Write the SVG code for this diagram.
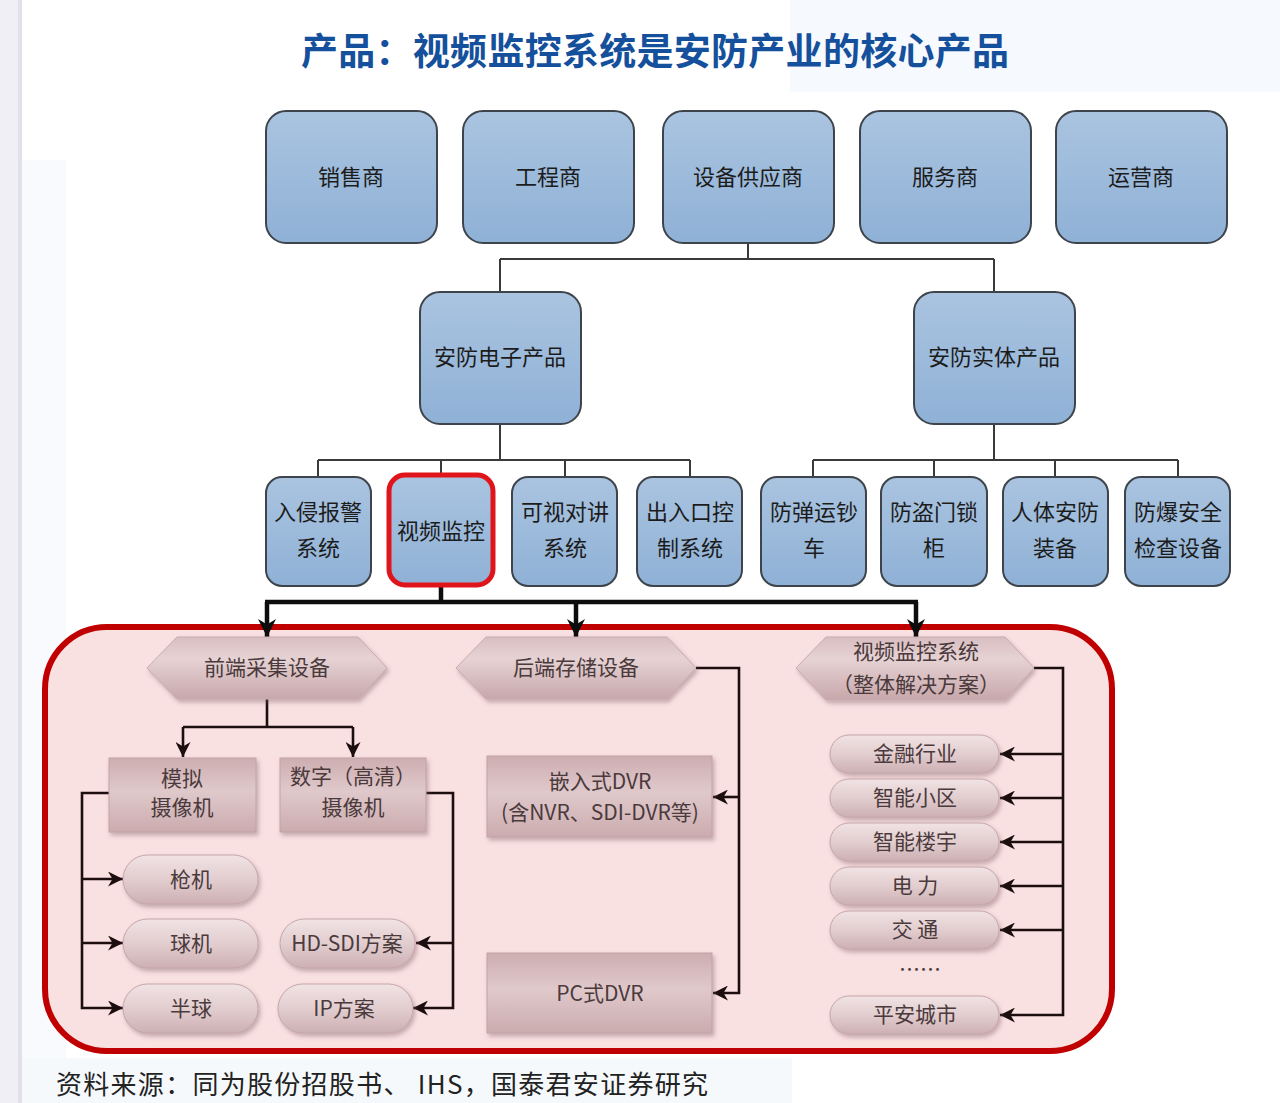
<svg xmlns="http://www.w3.org/2000/svg" width="1280" height="1103" viewBox="0 0 1280 1103">
<defs>
<linearGradient id="blueG" x1="0" y1="0" x2="0" y2="1"><stop offset="0" stop-color="#aac4e0"/><stop offset="1" stop-color="#8fb1d6"/></linearGradient>
<linearGradient id="hexG" x1="0" y1="0" x2="0" y2="1"><stop offset="0" stop-color="#d9bec1"/><stop offset="0.35" stop-color="#e6d2d4"/><stop offset="1" stop-color="#c7a7aa"/></linearGradient>
<linearGradient id="boxG" x1="0" y1="0" x2="0" y2="1"><stop offset="0" stop-color="#cdadb0"/><stop offset="0.45" stop-color="#e0c9cb"/><stop offset="1" stop-color="#cbabae"/></linearGradient>
<linearGradient id="pillG" x1="0" y1="0" x2="0" y2="1"><stop offset="0" stop-color="#f1e3e4"/><stop offset="0.5" stop-color="#e2cdcf"/><stop offset="1" stop-color="#cdb0b3"/></linearGradient>
<filter id="sh" x="-10%" y="-15%" width="125%" height="145%"><feDropShadow dx="2" dy="3" stdDeviation="2" flood-color="#7a5a5e" flood-opacity="0.4"/></filter>
<marker id="ah" viewBox="0 0 10 10" refX="10" refY="5" markerWidth="15" markerHeight="15" markerUnits="userSpaceOnUse" orient="auto"><path d="M0,0 L10,5 L0,10 L3,5 z" fill="#1c0e0f"/></marker>
<marker id="ahb" viewBox="0 0 10 10" refX="10" refY="5" markerWidth="18" markerHeight="18" markerUnits="userSpaceOnUse" orient="auto"><path d="M0,0 L10,5 L0,10 L3,5 z" fill="#0d0d0d"/></marker>
<style>
.bl{fill:url(#blueG);stroke:#3e444c;stroke-width:2}
.bt{font-family:"Noto Sans CJK SC","Noto Sans",sans-serif;font-size:22px;fill:#1c1c1c;text-anchor:middle;dominant-baseline:central;transform:translateY(-2px)}
.pt{font-family:"Noto Sans CJK SC","Noto Sans",sans-serif;font-size:21px;fill:#4a3a3c;text-anchor:middle;dominant-baseline:central;transform:translateY(-2px)}
.hex{fill:url(#hexG);stroke:#c9adb0;stroke-width:1;filter:url(#sh)}
.box{fill:url(#boxG);stroke:#c2a3a6;stroke-width:1;filter:url(#sh)}
.pill{fill:url(#pillG);stroke:#c4a6a9;stroke-width:1;filter:url(#sh)}
.gl{fill:none;stroke:#3a3a3a;stroke-width:2}
.tk{fill:none;stroke:#0d0d0d;stroke-width:4.5}
.tn{fill:none;stroke:#1c0e0f;stroke-width:2.6}
</style>
</defs>
<rect x="0" y="0" width="1280" height="1103" fill="#ffffff"/>
<rect x="790" y="0" width="490" height="92" fill="#f6f9fd"/>
<rect x="22" y="160" width="44" height="900" fill="#f8fafd"/>
<rect x="22" y="1058" width="770" height="45" fill="#f6f9fc"/>
<rect x="0" y="0" width="22" height="1103" fill="#f0eff5"/>
<rect x="18" y="0" width="4" height="1103" fill="#e2e1ea"/>

<text x="655" y="65" font-family="Noto Sans CJK SC,Noto Sans,sans-serif" font-size="37" font-weight="700" fill="#15509c" text-anchor="middle" textLength="708">产品：视频监控系统是安防产业的核心产品</text>

<g id="frame"><rect x="45" y="627" width="1067" height="424" rx="62" fill="#f9e0e1" stroke="#c00000" stroke-width="6"/></g>

<g id="connectors">
<path class="gl" d="M748,243 V259 M500,259 H994 M500,259 V292 M994,259 V292"/>
<path class="gl" d="M500,424 V460 M318,460 H690 M318,460 V477 M441,460 V473 M565,460 V477 M690,460 V477"/>
<path class="gl" d="M994,424 V460 M813,460 H1178 M813,460 V477 M934,460 V477 M1055,460 V477 M1178,460 V477"/>
<path class="tk" d="M441,586 V602 M265,602 H918"/>
<path class="tk" marker-end="url(#ahb)" d="M267,602 V637"/>
<path class="tk" marker-end="url(#ahb)" d="M576,602 V637"/>
<path class="tk" marker-end="url(#ahb)" d="M916,602 V637"/>
<path class="tn" d="M267,699 V727 M183,727 H353"/>
<path class="tn" marker-end="url(#ah)" d="M183,727 V757"/>
<path class="tn" marker-end="url(#ah)" d="M353,727 V757"/>
<path class="tn" marker-end="url(#ah)" d="M109,793 H82 V1008 H123"/>
<path class="tn" marker-end="url(#ah)" d="M82,879 H123"/>
<path class="tn" marker-end="url(#ah)" d="M82,943 H123"/>
<path class="tn" marker-end="url(#ah)" d="M426,793 H453 V1008 H413"/>
<path class="tn" marker-end="url(#ah)" d="M453,943 H416"/>
<path class="tn" marker-end="url(#ah)" d="M696,668 H739 V993 H713"/>
<path class="tn" marker-end="url(#ah)" d="M739,797 H713"/>
<path class="tn" marker-end="url(#ah)" d="M1034,668 H1063 V1015 H1000"/>
<path class="tn" marker-end="url(#ah)" d="M1063,754 H1000"/>
<path class="tn" marker-end="url(#ah)" d="M1063,798 H1000"/>
<path class="tn" marker-end="url(#ah)" d="M1063,842 H1000"/>
<path class="tn" marker-end="url(#ah)" d="M1063,886 H1000"/>
<path class="tn" marker-end="url(#ah)" d="M1063,930 H1000"/>
</g>

<g id="n-xiaoshou"><rect class="bl" x="266" y="111" width="171" height="132" rx="20"/><text class="bt" x="351" y="177">销售商</text></g>
<g id="n-gongcheng"><rect class="bl" x="463" y="111" width="171" height="132" rx="20"/><text class="bt" x="548" y="177">工程商</text></g>
<g id="n-shebei"><rect class="bl" x="663" y="111" width="171" height="132" rx="20"/><text class="bt" x="748" y="177">设备供应商</text></g>
<g id="n-fuwu"><rect class="bl" x="860" y="111" width="171" height="132" rx="20"/><text class="bt" x="945" y="177">服务商</text></g>
<g id="n-yunying"><rect class="bl" x="1056" y="111" width="171" height="132" rx="20"/><text class="bt" x="1141" y="177">运营商</text></g>

<g id="n-dianzi"><rect class="bl" x="420" y="292" width="161" height="132" rx="20"/><text class="bt" x="500" y="357">安防电子产品</text></g>
<g id="n-shiti"><rect class="bl" x="914" y="292" width="161" height="132" rx="20"/><text class="bt" x="994" y="357">安防实体产品</text></g>

<g id="n-ruqin"><rect class="bl" x="266" y="477" width="105" height="109" rx="16"/><text class="bt" x="318" y="512">入侵报警</text><text class="bt" x="318" y="548">系统</text></g>
<g id="n-shipin"><rect x="389" y="475" width="104" height="110" rx="16" fill="url(#blueG)" stroke="#e0141b" stroke-width="5"/><text class="bt" x="441" y="531">视频监控</text></g>
<g id="n-keshi"><rect class="bl" x="512" y="477" width="105" height="109" rx="16"/><text class="bt" x="565" y="512">可视对讲</text><text class="bt" x="565" y="548">系统</text></g>
<g id="n-churu"><rect class="bl" x="637" y="477" width="105" height="109" rx="16"/><text class="bt" x="690" y="512">出入口控</text><text class="bt" x="690" y="548">制系统</text></g>
<g id="n-fangdan"><rect class="bl" x="761" y="477" width="105" height="109" rx="16"/><text class="bt" x="814" y="512">防弹运钞</text><text class="bt" x="814" y="548">车</text></g>
<g id="n-fangdao"><rect class="bl" x="881" y="477" width="106" height="109" rx="16"/><text class="bt" x="934" y="512">防盗门锁</text><text class="bt" x="934" y="548">柜</text></g>
<g id="n-renti"><rect class="bl" x="1003" y="477" width="105" height="109" rx="16"/><text class="bt" x="1055" y="512">人体安防</text><text class="bt" x="1055" y="548">装备</text></g>
<g id="n-fangbao"><rect class="bl" x="1125" y="477" width="105" height="109" rx="16"/><text class="bt" x="1178" y="512">防爆安全</text><text class="bt" x="1178" y="548">检查设备</text></g>

<g id="n-qianduan"><polygon class="hex" points="147,668 177,637 358,637 387,668 358,699 177,699"/><text class="pt" x="267" y="668">前端采集设备</text></g>
<g id="n-houduan"><polygon class="hex" points="456,668 486,637 667,637 696,668 667,699 486,699"/><text class="pt" x="576" y="668">后端存储设备</text></g>
<g id="n-xitong"><polygon class="hex" points="796,668 826,637 1005,637 1034,668 1005,700 826,700"/><text class="pt" x="916" y="652">视频监控系统</text><text class="pt" x="916" y="685">（整体解决方案）</text></g>

<g id="n-moni"><rect class="box" x="109" y="758" width="147" height="74"/><text class="pt" x="182" y="779">模拟</text><text class="pt" x="182" y="808">摄像机</text></g>
<g id="n-shuzi"><rect class="box" x="280" y="758" width="146" height="74"/><text class="pt" x="353" y="777">数字（高清）</text><text class="pt" x="353" y="808">摄像机</text></g>
<g id="n-qiangji"><rect class="pill" x="123" y="855" width="135" height="49" rx="24.5"/><text class="pt" x="191" y="880">枪机</text></g>
<g id="n-qiuji"><rect class="pill" x="123" y="919" width="135" height="49" rx="24.5"/><text class="pt" x="191" y="944">球机</text></g>
<g id="n-banqiu"><rect class="pill" x="123" y="984" width="135" height="49" rx="24.5"/><text class="pt" x="191" y="1009">半球</text></g>
<g id="n-hdsdi"><rect class="pill" x="280" y="919" width="135" height="49" rx="24.5"/><text class="pt" x="347" y="944">HD-SDI方案</text></g>
<g id="n-ip"><rect class="pill" x="278" y="984" width="135" height="49" rx="24.5"/><text class="pt" x="344" y="1009">IP方案</text></g>

<g id="n-qianru"><rect class="box" x="487" y="756" width="225" height="81"/><text class="pt" x="600" y="782">嵌入式DVR</text><text class="pt" x="600" y="813">(含NVR、SDI-DVR等)</text></g>
<g id="n-pc"><rect class="box" x="487" y="953" width="225" height="80"/><text class="pt" x="600" y="994">PC式DVR</text></g>

<g id="n-jinrong"><rect class="pill" x="830" y="735" width="169" height="38" rx="19"/><text class="pt" x="915" y="754">金融行业</text></g>
<g id="n-xiaoqu"><rect class="pill" x="830" y="779" width="169" height="38" rx="19"/><text class="pt" x="915" y="798">智能小区</text></g>
<g id="n-louyu"><rect class="pill" x="830" y="823" width="169" height="38" rx="19"/><text class="pt" x="915" y="842">智能楼宇</text></g>
<g id="n-dianli"><rect class="pill" x="830" y="867" width="169" height="38" rx="19"/><text class="pt" x="915" y="886">电 力</text></g>
<g id="n-jiaotong"><rect class="pill" x="830" y="911" width="169" height="38" rx="19"/><text class="pt" x="915" y="930">交 通</text></g>
<text class="pt" x="920" y="970">……</text>
<g id="n-pingan"><rect class="pill" x="830" y="996" width="169" height="38" rx="19"/><text class="pt" x="915" y="1015">平安城市</text></g>

<text x="56" y="1094" font-family="Noto Sans CJK SC,Noto Sans,sans-serif" font-size="26" fill="#222222" textLength="652">资料来源：同为股份招股书、 IHS，国泰君安证券研究</text>
</svg>
